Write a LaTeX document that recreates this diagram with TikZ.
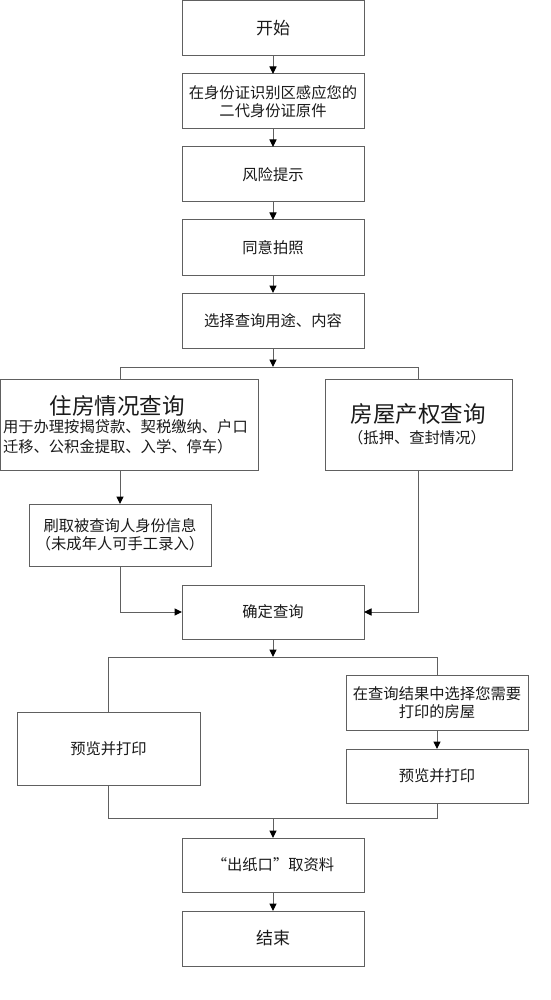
\documentclass[tikz,border=0pt]{standalone}
\usepackage{fontspec}
\newfontfamily\cjk{Noto Sans CJK SC}
\usetikzlibrary{arrows.meta}
\definecolor{ln}{HTML}{606060}
\definecolor{tx}{HTML}{1a1a1a}
\newcommand{\fs}[2]{\cjk\fontsize{#1}{#2}\selectfont}
\begin{document}
\begin{tikzpicture}[x=1pt,y=-1pt,
  box/.style={draw=ln, line width=1pt, inner sep=0pt, outer sep=0pt, text=tx,
    font=\fs{15.3}{18}, align=center},
  lbl/.style={inner sep=0pt, outer sep=0pt, text=tx},
  link/.style={draw=ln, line width=1pt},
  arr/.style={link, -{Triangle[length=7.5pt,width=7pt,color=black]}}
]
\useasboundingbox (0,0) rectangle (550,1000);
\fill[white] (0,0) rectangle (550,1000);

% main column
\node[box, minimum width=182pt, minimum height=55pt, font=\fs{17}{20}] (start) at (273,28.5) {开始};
\node[box, minimum width=182pt, minimum height=55pt] (id) at (273,101.5) {在身份证识别区感应您的\\二代身份证原件};
\node[box, minimum width=182pt, minimum height=55pt] (risk) at (273,174.5) {风险提示};
\node[box, minimum width=182pt, minimum height=55pt] (photo) at (273,247.5) {同意拍照};
\node[box, minimum width=182pt, minimum height=55pt] (select) at (273,320.5) {选择查询用途、内容};

% branch boxes
\node[box, minimum width=258pt, minimum height=91pt] (zf) at (129,424.5) {};
\node[lbl, font=\fs{22.5}{26}] (zft) at (117,406) {住房情况查询};
\node[lbl, font=\fs{15.3}{20}, anchor=west, align=left] (zfs) at (3,437) {用于办理按揭贷款、契税缴纳、户口\\迁移、公积金提取、入学、停车）};

\node[box, minimum width=187pt, minimum height=91pt] (fw) at (418.5,424.5) {};
\node[lbl, font=\fs{22.5}{26}] (fwt) at (418,414) {房屋产权查询};
\node[lbl, font=\fs{15.3}{18}] (fws) at (417,438) {（抵押、查封情况）};

\node[box, minimum width=182pt, minimum height=62pt] (sk) at (120,535) {刷取被查询人身份信息\\（未成年人可手工录入）};

\node[box, minimum width=182pt, minimum height=54pt] (qd) at (273,612) {确定查询};

\node[box, minimum width=183pt, minimum height=73pt] (ylL) at (108.5,748.5) {预览并打印};
\node[box, minimum width=182pt, minimum height=55pt] (xz) at (437,702.5) {在查询结果中选择您需要\\打印的房屋};
\node[box, minimum width=182pt, minimum height=54pt] (ylR) at (437,776) {预览并打印};

\node[box, minimum width=182pt, minimum height=54pt] (cz) at (273,865) {“出纸口”取资料};
\node[box, minimum width=182pt, minimum height=55pt, font=\fs{17}{20}] (end) at (273,938.5) {结束};

% connectors
\draw[arr] (start.south) -- (id.north);
\draw[arr] (id.south) -- (risk.north);
\draw[arr] (risk.south) -- (photo.north);
\draw[arr] (photo.south) -- (select.north);

\coordinate (s1) at (273,367);
\coordinate (s1L) at (120,367);
\coordinate (s1R) at (418.5,367);
\draw[arr] (select.south) -- (s1);
\draw[link] (s1L |- zf.north) -- (s1L) -- (s1R) -- (fw.north);

\draw[arr] (zf.south -| sk.north) -- (sk.north);
\draw[arr] (sk.south) |- (qd.west);
\draw[arr] (fw.south) |- (qd.east);

\coordinate (s2) at (273,657);
\draw[arr] (qd.south) -- (s2);
\draw[link] (ylL.north) -- (ylL.north |- s2) -- (xz.north |- s2) -- (xz.north);
\draw[arr] (xz.south) -- (ylR.north);

\coordinate (m) at (273,818);
\draw[link] (ylL.south) -- (ylL.south |- m) -- (ylR.south |- m) -- (ylR.south);
\draw[arr] (m) -- (cz.north);
\draw[arr] (cz.south) -- (end.north);
\end{tikzpicture}
\end{document}
